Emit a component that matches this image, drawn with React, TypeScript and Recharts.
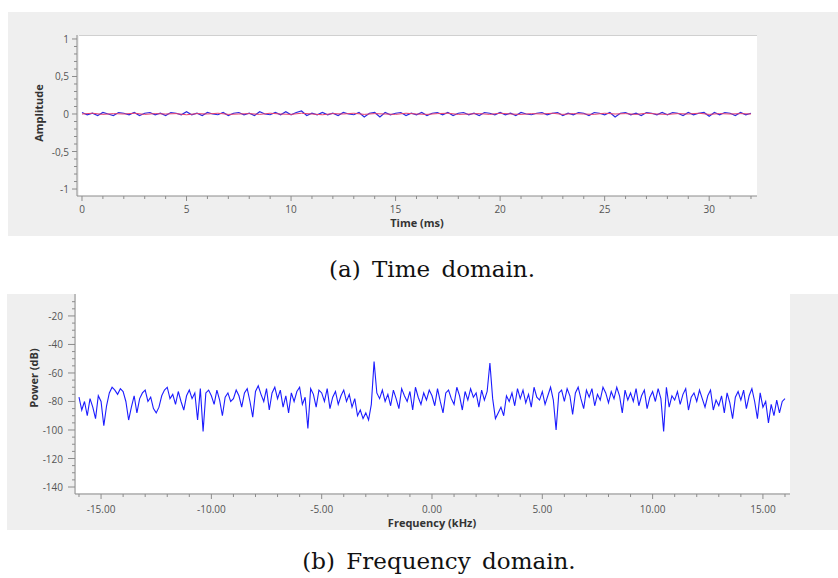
import { LineChart, Line, XAxis, YAxis } from "recharts";

// time domain samples (0 .. 32 ms)
const timeStepMs = 0.25;
const timeBlue = [
  0.02, -0.01, 0.01, -0.02, 0.02, 0.0, -0.02, 0.02,
  0.01, -0.01, 0.02, -0.02, 0.01, 0.02, -0.01, 0.01,
  -0.02, 0.02, 0.01, -0.01, 0.03, -0.01, 0.01, -0.02,
  0.02, 0.0, -0.01, 0.02, -0.02, 0.01, 0.02, -0.01,
  0.01, -0.02, 0.03, 0.0, -0.01, 0.02, -0.01, 0.03,
  -0.01, 0.02, 0.04, -0.02, 0.01, -0.01, 0.02, -0.01,
  0.01, -0.02, 0.02, 0.0, -0.01, 0.02, -0.04, 0.01,
  0.02, -0.04, 0.02, -0.01, 0.01, 0.02, -0.02, 0.01,
  -0.01, 0.02, -0.02, 0.01, 0.02, -0.01, 0.02, -0.02,
  0.01, 0.02, -0.01, 0.01, -0.02, 0.02, 0.01, -0.01,
  0.02, -0.01, 0.01, -0.02, 0.02, 0.0, -0.01, 0.01,
  0.02, -0.01, 0.01, 0.02, -0.02, 0.01, -0.01, 0.02,
  0.01, -0.02, 0.02, 0.01, -0.01, 0.02, -0.04, 0.01,
  0.02, -0.01, 0.01, -0.02, 0.02, 0.01, -0.01, 0.02,
  -0.01, 0.02, 0.01, -0.02, 0.02, -0.01, 0.01, 0.02,
  -0.03, 0.02, -0.01, 0.02, 0.01, -0.02, 0.02, -0.01,
  0.01,
];
const redStepMs = 0.5;
const timeRed = [
  0.0, 0.01, -0.005, 0.005, 0.0, 0.01, -0.005, 0.005,
  0.0, 0.005, -0.01, 0.005, 0.0, 0.01, -0.005, 0.0,
  0.005, -0.005, 0.01, 0.0, -0.005, 0.01, 0.0, -0.01,
  0.005, 0.0, 0.01, -0.005, 0.005, 0.0, -0.005, 0.01,
  0.0, -0.005, 0.005, 0.01, -0.005, 0.0, 0.005, -0.005,
  0.01, 0.0, -0.005, 0.005, 0.0, 0.01, -0.005, 0.005,
  0.0, -0.005, 0.01, 0.0, 0.005, -0.005, 0.01, 0.0,
  -0.005, 0.005, 0.0, 0.01, -0.005, 0.005, 0.0, 0.005,
  0.0,
];

// spectrum, -16 .. 16 kHz, one row per kHz
const freqStartKHz = -16;
const freqStepKHz = 0.125;
const powerDb = [
  -77, -86, -80, -90, -78, -84, -92, -76,
  -80, -97, -83, -74, -70, -72, -75, -71,
  -73, -80, -93, -84, -76, -88, -78, -74,
  -72, -80, -77, -85, -88, -84, -76, -72,
  -70, -78, -75, -82, -73, -80, -86, -76,
  -72, -78, -74, -93, -71, -101, -74, -72,
  -76, -82, -72, -79, -90, -77, -74, -80,
  -78, -72, -76, -84, -74, -71, -80, -91,
  -73, -69, -75, -80, -71, -86, -74, -70,
  -78, -72, -84, -76, -88, -74, -80, -73,
  -70, -82, -77, -99, -71, -75, -84, -72,
  -74, -80, -71, -85, -77, -73, -82, -76,
  -72, -80, -75, -84, -78, -90, -86, -92,
  -88, -93, -82, -52, -74, -78, -72, -80,
  -75, -83, -72, -78, -85, -71, -76, -80,
  -73, -86, -70, -77, -82, -74, -79, -72,
  -76, -83, -71, -80, -88, -74, -72, -78,
  -82, -70, -76, -86, -73, -79, -71, -77,
  -74, -84, -72, -79, -73, -53, -78, -92,
  -88, -84, -90, -76, -80, -74, -83, -71,
  -78, -72, -81, -75, -84, -70, -77, -79,
  -73, -82, -76, -70, -79, -100, -74, -72,
  -80, -71, -76, -89, -74, -70, -78, -85,
  -72, -77, -71, -83, -75, -79, -70, -74,
  -81, -73, -78, -70, -76, -88, -72, -79,
  -74, -80, -71, -83, -76, -72, -85, -77,
  -73, -80, -71, -78, -101, -70, -84, -76,
  -79, -73, -82, -75, -71, -86, -77, -74,
  -80, -72, -78, -84, -76, -72, -86, -79,
  -83, -76, -88, -74, -81, -92, -77, -73,
  -79, -72, -85, -76, -71, -80, -92, -74,
  -84, -80, -95, -82, -90, -79, -88, -80,
  -78,
];

const timeMajor = [0, 5, 10, 15, 20, 25, 30];
const timeTicks = [0, 1, 2, 3, 4, 5, 6, 7, 8, 9, 10, 11, 12, 13, 14, 15, 16, 17, 18, 19, 20, 21, 22, 23, 24, 25, 26, 27, 28, 29, 30, 31, 32];
const ampMajor = [-1, -0.5, 0, 0.5, 1];
const ampTicks = [-1, -0.9, -0.8, -0.7, -0.6, -0.5, -0.4, -0.3, -0.2, -0.1, 0, 0.1, 0.2, 0.3, 0.4, 0.5, 0.6, 0.7, 0.8, 0.9, 1];
const freqMajor = [-15, -10, -5, 0, 5, 10, 15];
const freqTicks = [-16, -15, -14, -13, -12, -11, -10, -9, -8, -7, -6, -5, -4, -3, -2, -1, 0, 1, 2, 3, 4, 5, 6, 7, 8, 9, 10, 11, 12, 13, 14, 15, 16];
const powerMajor = [-140, -120, -100, -80, -60, -40, -20];
const powerTicks = [-140, -135, -130, -125, -120, -115, -110, -105, -100, -95, -90, -85, -80, -75, -70, -65, -60, -55, -50, -45, -40, -35, -30, -25, -20, -15, -10];

const blueData = timeBlue.map((v, i) => ({ t: i * timeStepMs, v }));
const redData = timeRed.map((v, i) => ({ t: i * redStepMs, v }));
const freqData = powerDb.map((p, i) => ({ f: freqStartKHz + i * freqStepKHz, p }));

const FONT = "'Open Sans', 'DejaVu Sans', sans-serif";
const AXIS = "#8c8c8c";
const isMajor = (v: number, majors: number[]) => majors.some((m) => Math.abs(m - v) < 1e-6);

const BottomTick = (props: any) => {
  const { x, y, payload, majors, fmt, gap } = props;
  const major = isMajor(payload.value, majors);
  return (
    <g>
      <line x1={x} x2={x} y1={y} y2={y + (major ? 5 : 3)} stroke={AXIS} />
      {major && (
        <text x={x} y={y + gap} textAnchor="middle" dominantBaseline="central" fontSize={10} fill="#555" fontFamily={FONT}>
          {fmt(payload.value)}
        </text>
      )}
    </g>
  );
};

const LeftTick = (props: any) => {
  const { x, y, payload, majors, fmt, gap, len } = props;
  const major = isMajor(payload.value, majors);
  return (
    <g>
      <line x1={x} x2={x - (major ? len : 3)} y1={y} y2={y} stroke={AXIS} />
      {major && (
        <text x={x - gap} y={y} textAnchor="end" dominantBaseline="central" fontSize={10} fill="#555" fontFamily={FONT}>
          {fmt(payload.value)}
        </text>
      )}
    </g>
  );
};

const title = (text: string, x: number, y: number, rotate?: boolean) => (
  <text
    x={x}
    y={y}
    textAnchor="middle"
    dominantBaseline="central"
    fontSize={11}
    fontWeight="bold"
    fill="#333"
    fontFamily={FONT}
    transform={rotate ? `rotate(-90 ${x} ${y})` : undefined}
  >
    {text}
  </text>
);

const caption = {
  position: "absolute" as const,
  fontFamily: "'DejaVu Serif', 'Liberation Serif', serif",
  fontSize: 23,
  wordSpacing: 4,
  color: "#111",
  whiteSpace: "nowrap" as const,
  transform: "translateX(-50%)",
};

export default function App() {
  return (
    <div style={{ position: "absolute", left: 0, top: 0, width: 838, height: 578, background: "#fff", overflow: "hidden" }}>
      {/* time domain panel */}
      <div style={{ position: "absolute", left: 8, top: 12, width: 830, height: 224, background: "#efefef" }} />
      <div style={{ position: "absolute", left: 79, top: 35, width: 678, height: 160, background: "#fff", borderTop: "1px solid #d0d0d0" }} />
      <div style={{ position: "absolute", left: 0, top: 0 }}>
        <LineChart width={838} height={240} margin={{ top: 35, right: 81, bottom: 0, left: 0 }}>
          <XAxis
            dataKey="t"
            type="number"
            domain={[-0.239, 32.287]}
            allowDataOverflow
            ticks={timeTicks}
            interval={0}
            height={44}
            tickSize={0}
            tickMargin={0}
            stroke={AXIS}
            tick={(p: any) => <BottomTick {...p} majors={timeMajor} fmt={(v: number) => String(v)} gap={13} />}
            label={{ content: () => title("Time (ms)", 417, 222) }}
          />
          <YAxis
            type="number"
            domain={[-1.093, 1.053]}
            allowDataOverflow
            ticks={ampTicks}
            interval={0}
            width={77}
            tickSize={0}
            tickMargin={0}
            stroke={AXIS}
            tick={(p: any) => (
              <LeftTick {...p} majors={ampMajor} fmt={(v: number) => String(v).replace(".", ",")} gap={8} len={5} />
            )}
            label={{ content: () => title("Amplitude", 38, 113, true) }}
          />
          <Line data={blueData} dataKey="v" type="linear" stroke="#2a2ae0" strokeWidth={1.2} dot={false} isAnimationActive={false} />
          <Line data={redData} dataKey="v" type="linear" stroke="#e8406e" strokeWidth={1} dot={false} isAnimationActive={false} />
        </LineChart>
      </div>
      <div style={{ ...caption, left: 432, top: 256 }}>(a) Time domain.</div>

      {/* frequency domain panel */}
      <div style={{ position: "absolute", left: 7, top: 294, width: 831, height: 236, background: "#efefef" }} />
      <div style={{ position: "absolute", left: 76, top: 294, width: 714, height: 199, background: "#fff" }} />
      <div style={{ position: "absolute", left: 0, top: 290 }}>
        <LineChart width={838} height={250} data={freqData} margin={{ top: 4, right: 48, bottom: 0, left: 0 }}>
          <XAxis
            dataKey="f"
            type="number"
            domain={[-16.181, 16.227]}
            allowDataOverflow
            ticks={freqTicks}
            interval={0}
            height={46}
            tickSize={0}
            tickMargin={0}
            stroke={AXIS}
            tick={(p: any) => <BottomTick {...p} majors={freqMajor} fmt={(v: number) => v.toFixed(2)} gap={15} />}
            label={{ content: () => title("Frequency (kHz)", 432, 232) }}
          />
          <YAxis
            type="number"
            domain={[-144.9, -4.6]}
            allowDataOverflow
            ticks={powerTicks}
            interval={0}
            width={75}
            tickSize={0}
            tickMargin={0}
            stroke={AXIS}
            tick={(p: any) => <LeftTick {...p} majors={powerMajor} fmt={(v: number) => String(v)} gap={12} len={7} />}
            label={{ content: () => title("Power (dB)", 33, 88, true) }}
          />
          <Line dataKey="p" type="linear" stroke="#1c1cff" strokeWidth={1.1} dot={false} isAnimationActive={false} />
        </LineChart>
      </div>
      <div style={{ ...caption, left: 439, top: 548 }}>(b) Frequency domain.</div>
    </div>
  );
}
